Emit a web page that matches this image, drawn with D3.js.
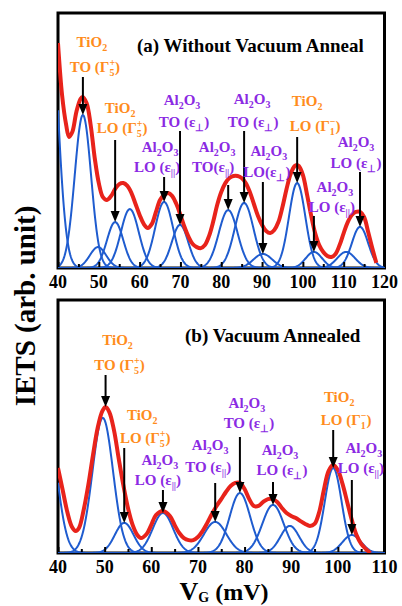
<!DOCTYPE html>
<html><head><meta charset="utf-8">
<script src="https://cdn.jsdelivr.net/npm/d3@7"></script>
<style>
html,body{margin:0;padding:0;background:#fff;}
svg{display:block;}
text{font-family:"Liberation Serif","Times New Roman",serif;font-weight:bold;}
</style></head><body>
<svg id="chart" width="402" height="606"></svg>
<script>
// ---- Panel (a): without vacuum anneal ----
// measured IETS trace: bias (mV) and signal (arb. unit)
const biasA = [40,41,42,42.7,43.5,44.5,45.5,46,47,48,49,50,51,52,53,54,55,56,57,58,59,60,61,62,63,64,65,66,67,68,69,70,71,72,73,74,75,76,77,78,79,80,81,82,83,84,85,86,87,88,89,90,91,92,93,94,95,96,97,98,98.5,99,100,101,102,103,104,105,106,107,108,109,110,111,112,113,114,115,116,117,118];
const ietsA = [0.882,0.678,0.561,0.514,0.533,0.612,0.663,0.671,0.647,0.561,0.431,0.333,0.278,0.267,0.282,0.310,0.329,0.333,0.322,0.294,0.251,0.208,0.173,0.157,0.173,0.220,0.267,0.286,0.294,0.282,0.251,0.208,0.161,0.122,0.094,0.082,0.078,0.090,0.125,0.180,0.247,0.298,0.333,0.353,0.361,0.361,0.353,0.333,0.298,0.251,0.204,0.169,0.145,0.137,0.149,0.180,0.239,0.310,0.369,0.400,0.404,0.400,0.365,0.290,0.208,0.137,0.090,0.063,0.047,0.043,0.055,0.090,0.137,0.180,0.208,0.220,0.220,0.200,0.141,0.078,0.020];
// Gaussian components of the fit: centre (mV), height, width (mV)
const peakCentersA = [37.5,46.1,49.8,54.0,57.6,66.0,69.9,81.7,85.6,90.2,98.6,102.7,110.6,114.0];
const peakHeightsA = [1.18,0.600,0.082,0.180,0.231,0.259,0.169,0.227,0.255,0.055,0.333,0.063,0.063,0.161];
const peakWidthsA  = [2.2,2.0,2.0,2.0,2.2,2.2,2.0,2.3,2.3,2.3,2.0,2.0,2.2,2.0];
// phonon assignments and the component each one points at
const annMaterialA = ["TiO_2","TiO_2","Al_2O_3","Al_2O_3","Al_2O_3","Al_2O_3","Al_2O_3","TiO_2","Al_2O_3","Al_2O_3"];
const annModeA = ["TO (Γ_5^+)","LO (Γ_5^+)","LO (ε_{||})","TO (ε_⊥)","TO(ε_{||})","TO (ε_⊥)","LO(ε_⊥)","LO (Γ_1^−)","LO (ε_{||})","LO (ε_⊥)"];
const annPeakA = [1,3,5,6,7,8,9,10,11,13];
const ticksA = [40,50,60,70,80,90,100,110,120];

// ---- Panel (b): vacuum annealed ----
const biasB = [40,41,42,43,43.8,44.5,45.5,46.5,47.5,48.5,49.5,50.2,51,52,53,54,55,56,57,57.8,59,60,61,62.5,64,65,66,67,68,69,70,71,72,73,74,75,76,77,78,79,80,81,82,83,84,85,86,87,88,89,90,91,92,93,94,95,96,97,98,99,100,101,102,103,104,105,106,107];
const ietsB = [0.336,0.249,0.162,0.103,0.087,0.099,0.170,0.269,0.387,0.494,0.561,0.577,0.557,0.486,0.375,0.269,0.178,0.111,0.071,0.059,0.075,0.111,0.150,0.166,0.146,0.111,0.079,0.059,0.051,0.051,0.063,0.087,0.119,0.154,0.186,0.213,0.241,0.265,0.277,0.277,0.253,0.213,0.186,0.186,0.202,0.213,0.213,0.202,0.178,0.158,0.146,0.138,0.126,0.115,0.107,0.115,0.162,0.249,0.324,0.348,0.328,0.273,0.202,0.130,0.071,0.036,0.016,0.0];
const peakCentersB = [37.5,49.6,54.2,62.5,73.7,79.0,86.1,89.7,99.0,103.0];
const peakHeightsB = [0.53,0.534,0.119,0.158,0.123,0.237,0.190,0.107,0.336,0.071];
const peakWidthsB  = [2.2,2.2,2.0,2.2,2.4,2.2,2.3,2.0,1.8,2.0];
const annMaterialB = ["TiO_2","TiO_2","Al_2O_3","Al_2O_3","Al_2O_3","Al_2O_3","TiO_2","Al_2O_3"];
const annModeB = ["TO (Γ_5^+)","LO (Γ_5^+)","LO (ε_{||})","TO (ε_{||})","TO (ε_⊥)","LO (ε_⊥)","LO (Γ_1^−)","LO (ε_{||})"];
const annPeakB = [1,2,3,4,5,6,8,9];
const annOnTraceB = [true,false,false,false,false,false,false,false];
const ticksB = [40,50,60,70,80,90,100,110];

// ---- styling / layout ----
const RED = "#e8231b", BLUE = "#1f5ccf", ORANGE = "#ff8c1c", PURPLE = "#8b2ae3";
const svg = d3.select("#chart");

// label placement: offsets (px) of the two text lines from the arrow, baselines and arrow top
const layoutA = [
  {m:9, d:12, y1:47, y2:72, top:77},
  {m:5, d:7, y1:113, y2:133, top:140},
  {m:-4, d:-7, y1:152, y2:172, top:177},
  {m:2, d:4, y1:105, y2:127, top:131},
  {m:-11, d:-15, y1:152, y2:172, top:185},
  {m:8, d:9, y1:104, y2:127, top:131},
  {m:6, d:4, y1:156, y2:177, top:182},
  {m:10, d:18, y1:106, y2:131, top:137},
  {m:21, d:18, y1:192, y2:212, top:216},
  {m:-4, d:-4, y1:147, y2:168, top:172}
];
const layoutB = [
  {m:12, d:14, y1:345, y2:370, top:375},
  {m:18, d:21, y1:420, y2:443, top:448},
  {m:-3, d:-5, y1:465, y2:485, top:490},
  {m:-5, d:-7, y1:450, y2:472, top:483},
  {m:7, d:9, y1:408, y2:428, top:437},
  {m:7, d:9, y1:455, y2:475, top:482},
  {m:6, d:13, y1:402, y2:425, top:430},
  {m:12, d:9, y1:453, y2:473, top:480}
];

// simple markup: _x / _{xx} subscript, ^x superscript
function parseMarkup(s){
  const segs=[]; let i=0, buf='';
  while(i<s.length){
    const c=s[i];
    if(c==='_'||c==='^'){
      if(buf){segs.push({t:buf,k:'n'});buf='';}
      let j=i+1, t;
      if(s[j]==='{'){const e=s.indexOf('}',j); t=s.slice(j+1,e); i=e+1;}
      else {t=s[j]; i=j+1;}
      segs.push({t, k:c==='_'?'sub':'sup'});
    } else {buf+=c; i++;}
  }
  if(buf) segs.push({t:buf,k:'n'});
  return segs;
}
function richText(g, str, x, y, size, color, anchor){
  const t = g.append("text").attr("x",x).attr("y",y).attr("fill",color)
    .attr("font-size",size).attr("text-anchor",anchor||"middle");
  const small = Math.round(size*0.66);
  let level = 0, prev = null;
  parseMarkup(str).forEach(seg=>{
    const target = seg.k==='sub' ? size*0.28 : seg.k==='sup' ? -size*0.38 : 0;
    const sp = t.append("tspan").attr("dy", target-level).text(seg.t);
    if(seg.k!=='n') sp.attr("font-size", small);
    if(seg.k==='sup' && prev==='sub') sp.attr("dx", -small*0.5);
    level = target; prev = seg.k;
  });
  return t;
}

function gaussian(c,h,w){ return x => h*Math.exp(-((x-c)*(x-c))/(2*w*w)); }

function drawPanel(cfg){
  const {x0,x1,yBase,yTop,domain,bias,iets,centers,heights,widths,mats,modes,peaks,layout,ticks,title,titleX,titleY,onTrace,id} = cfg;
  const x = d3.scaleLinear().domain(domain).range([x0,x1]);
  const y = d3.scaleLinear().domain([0,1]).range([yBase,yTop]);
  const g = svg.append("g");

  g.append("clipPath").attr("id",id).append("rect")
    .attr("x",x0).attr("y",yTop).attr("width",x1-x0).attr("height",yBase-yTop);

  g.append("rect").attr("x",x0).attr("y",yTop).attr("width",x1-x0).attr("height",yBase-yTop)
    .attr("fill","none").attr("stroke","#000").attr("stroke-width",3);

  const plot = g.append("g").attr("clip-path",`url(#${id})`);
  const xs = d3.range(domain[0], domain[1]+0.001, 0.1);
  const line = d3.line().x(d=>x(d[0])).y(d=>y(d[1]));
  centers.forEach((c,i)=>{
    const f = gaussian(c,heights[i],widths[i]);
    plot.append("path").datum(xs.map(v=>[v,f(v)]))
      .attr("d",line).attr("fill","none").attr("stroke",BLUE).attr("stroke-width",2);
  });
  const trace = bias.map((b,i)=>[b,iets[i]]);
  plot.append("path").datum(trace)
    .attr("d", d3.line().x(d=>x(d[0])).y(d=>y(d[1])).curve(d3.curveCatmullRom.alpha(0.5)))
    .attr("fill","none").attr("stroke",RED).attr("stroke-width",4).attr("stroke-linejoin","round");

  // inward ticks every 5 mV, labels every 10 mV
  const axis = d3.axisBottom(x).tickValues(d3.range(domain[0],domain[1]+0.1,5))
    .tickSize(0).tickFormat("");
  const ax = g.append("g").attr("transform",`translate(0,${yBase})`).call(axis);
  ax.select(".domain").remove();
  ax.selectAll(".tick").append("line").attr("y1",-1).attr("y2",d=> (d%10===0)?-6:-4)
    .attr("stroke","#000").attr("stroke-width",2);
  g.selectAll(".tl").data(ticks).join("text").attr("class","tl")
    .attr("x",d=>x(d)).attr("y",yBase+20).attr("text-anchor","middle")
    .attr("font-size",18).attr("fill","#000").text(d=>d);

  g.append("text").attr("x",titleX).attr("y",titleY).attr("font-size",19).attr("fill","#000").text(title);

  // phonon assignments with arrows
  peaks.forEach((p,i)=>{
    const L = layout[i];
    let ax0 = x(centers[p]), tipY = y(heights[p]);
    if(onTrace && onTrace[i]){
      let best = null;
      bias.forEach((b,k)=>{ if(Math.abs(b-centers[p])<=1.5 && (!best || iets[k]>best[1])) best=[b,iets[k]]; });
      ax0 = x(best[0]); tipY = y(best[1]);
    }
    const color = mats[i].startsWith("TiO") ? ORANGE : PURPLE;
    richText(g, mats[i], ax0+L.m, L.y1, 15, color);
    richText(g, modes[i], ax0+L.d, L.y2, 15, color);
    g.append("line").attr("x1",ax0).attr("x2",ax0).attr("y1",L.top).attr("y2",tipY-8)
      .attr("stroke","#000").attr("stroke-width",2);
    g.append("path").attr("d",`M${ax0-4.5},${tipY-11}L${ax0+4.5},${tipY-11}L${ax0},${tipY}Z`).attr("fill","#000");
  });
}

drawPanel({id:"clipA", x0:58, x1:384.5, yBase:268, yTop:13, domain:[40,120],
  bias:biasA, iets:ietsA, centers:peakCentersA, heights:peakHeightsA, widths:peakWidthsA,
  mats:annMaterialA, modes:annModeA, peaks:annPeakA, layout:layoutA, ticks:ticksA,
  title:"(a) Without Vacuum Anneal", titleX:137, titleY:52});
drawPanel({id:"clipB", x0:58, x1:384.5, yBase:553, yTop:300, domain:[40,110],
  bias:biasB, iets:ietsB, centers:peakCentersB, heights:peakHeightsB, widths:peakWidthsB,
  mats:annMaterialB, modes:annModeB, peaks:annPeakB, layout:layoutB, ticks:ticksB, onTrace:annOnTraceB,
  title:"(b) Vacuum Annealed", titleX:185, titleY:342});

// shared axis titles
svg.append("text").attr("transform","translate(35,306) rotate(-90)").attr("text-anchor","middle")
  .attr("font-size",29).attr("fill","#000").text("IETS (arb. unit)");
const xl = svg.append("text").attr("x",224).attr("y",600).attr("text-anchor","middle").attr("fill","#000").attr("font-size",24);
xl.append("tspan").attr("font-size",26).text("V");
xl.append("tspan").attr("font-size",14).attr("dy",1.5).text("G");
xl.append("tspan").attr("dy",-1.5).text(" (mV)");
</script>
</body></html>
